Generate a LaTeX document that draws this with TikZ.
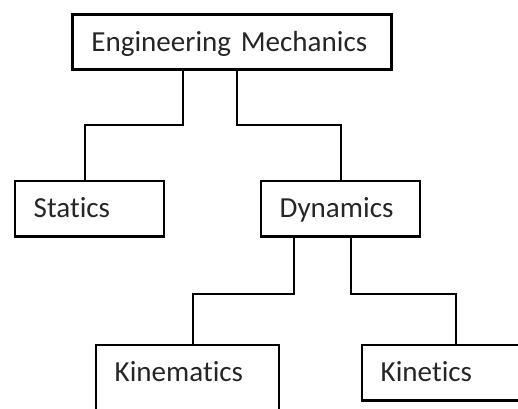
\documentclass[tikz,border=0pt]{standalone}
\usepackage{fontspec}
\newfontfamily\boxfont[RawFeature=-liga]{Carlito}

\tikzset{every picture/.style={line width=0.75pt}}
\tikzset{
  block/.style={draw, line width=2pt, outer sep=0pt, inner xsep=14pt, inner ysep=0pt,
    text height=27.75pt, text depth=13.7pt, text width=#1, align=left, anchor=north west,
    text=black!85, font=\boxfont\fontsize{21.8}{26}\selectfont},
  link/.style={line width=1.5pt}
}

\begin{document}
\begin{tikzpicture}[x=0.75pt,y=0.75pt,yscale=-1,xscale=1]
\useasboundingbox (0,0) rectangle (518,409);
\clip (0,0) rectangle (518,409);

%Shape: Rectangle [top]
\node [block=211.25pt] (mech) at (72.7,14.5) {Engineering Mechanics};
%Shape: Rectangle [second row]
\node [block=83.75pt] (statics) at (15,181) {Statics};
\node [block=91.25pt] (dynamics) at (261,181) {Dynamics};
%Shape: Rectangle [third row]
\node [block=109.25pt, text depth=45pt] (kinematics) at (96,345) {Kinematics};
\node [block=113pt] (kinetics) at (362,345) {Kinetics};

%Straight Lines
\draw [link] ([xshift=-36.75pt]mech.south) -- ++(0,55) -| ([xshift=-3.4pt]statics.north) ;
\draw [link] ([xshift=3.75pt]mech.south) -- ++(0,55) -| (dynamics.north) ;
%Straight Lines
\draw [link] ([xshift=-35.25pt]dynamics.south) -- ++(0,58) -| ([xshift=4.4pt]kinematics.north) ;
\draw [link] ([xshift=7.9pt]dynamics.south) -- ++(0,58) -| (kinetics.north) ;

\end{tikzpicture}
\end{document}
